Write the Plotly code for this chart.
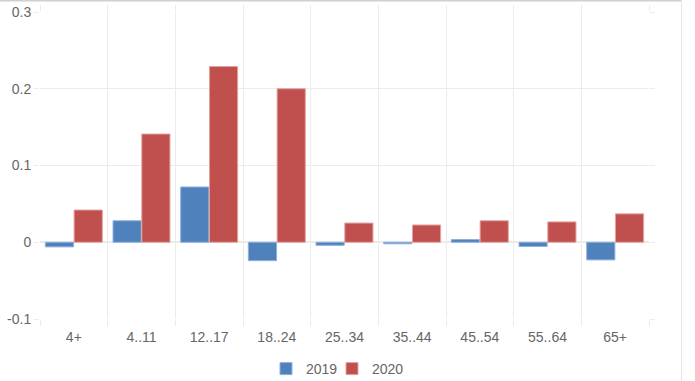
import plotly.graph_objects as go

categories = ["4+", "4..11", "12..17", "18..24", "25..34", "35..44", "45..54", "55..64", "65+"]
values_2019 = [-0.006, 0.028, 0.072, -0.024, -0.004, -0.002, 0.0035, -0.0055, -0.023]
values_2020 = [0.042, 0.141, 0.229, 0.200, 0.025, 0.0225, 0.028, 0.0265, 0.037]
y_tickvals = [-0.1, 0, 0.1, 0.2, 0.3]
y_ticktext = ["-0.1", "0", "0.1", "0.2", "0.3"]

W, H = 695, 381
L, R, T, B = 40, 46, 12, 62
pw, ph = W - L - R, H - T - B

def px_x(x):
    return (x - L) / pw

def px_y(y):
    return (H - B - y) / ph

fig = go.Figure()
fig.add_trace(go.Bar(x=categories, y=values_2019, name="2019", legend="legend",
                     marker=dict(color="#4f81bd", line=dict(color="#8fb0dc", width=1))))
fig.add_trace(go.Bar(x=categories, y=values_2020, name="2020", legend="legend2",
                     marker=dict(color="#c0504d", line=dict(color="#e4a3a1", width=1))))

grid = "#ebebeb"
txt = "#666666"
leg_common = dict(orientation="h", xanchor="left", yanchor="middle", y=px_y(369),
                  font=dict(size=14, color=txt), bgcolor="rgba(0,0,0,0)")
fig.update_layout(
    width=W, height=H,
    margin=dict(l=L, r=R, t=T, b=B, autoexpand=False),
    paper_bgcolor="white", plot_bgcolor="white",
    barmode="group", bargap=0.15, bargroupgap=0.02,
    font=dict(family="Arial, Liberation Sans, sans-serif", size=14, color=txt),
    showlegend=True,
    legend=dict(x=px_x(266), **leg_common),
    legend2=dict(x=px_x(332), **leg_common),
    xaxis=dict(showgrid=True, gridcolor=grid, tickson="boundaries", ticks="outside",
               ticklen=6, tickcolor=grid, mirror="ticks", showline=False, zeroline=False,
               automargin=False, ticklabelstandoff=8, tickfont=dict(size=14, color=txt)),
    yaxis=dict(range=[-0.1, 0.3], tickvals=y_tickvals, ticktext=y_ticktext,
               showgrid=True, gridcolor=grid, zeroline=True, zerolinecolor=grid,
               ticks="outside", ticklen=5, tickcolor=grid, mirror="ticks", showline=False,
               automargin=False, tickfont=dict(size=14, color=txt)),
    shapes=[
        dict(type="line", xref="paper", yref="paper", x0=px_x(0), x1=px_x(681.5),
             y0=px_y(0.7), y1=px_y(0.7), line=dict(color="#cfcfcf", width=1.5)),
        dict(type="line", xref="paper", yref="paper", x0=px_x(681.5), x1=px_x(681.5),
             y0=px_y(0), y1=px_y(381), line=dict(color="#e6e6e6", width=1)),
    ],
)

fig.write_html("out.html", config={"displayModeBar": False})

with open("out.html", "r", encoding="utf-8") as f:
    html = f.read()
html = html.replace("<head>", "<head><style>html,body{margin:0;padding:0;overflow:hidden;}</style>", 1)
with open("out.html", "w", encoding="utf-8") as f:
    f.write(html)
